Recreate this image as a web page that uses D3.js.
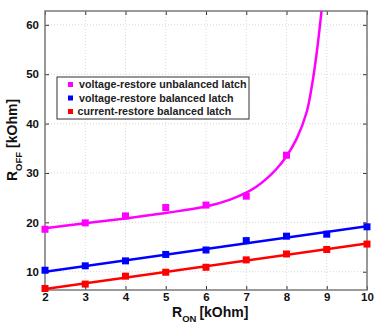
<!DOCTYPE html>
<head>
	<meta charset="utf-8">
	<style>
		body { margin: 0; background: #fff; }
		svg { font-family: "Liberation Sans", Arial, sans-serif; }
		.tick text { font-size: 11.5px; fill: #111; }
		.grid line { stroke: #d8d8d8; stroke-dasharray: 1,2; }
	</style>
</head>
<body>
	<svg width="374" height="327"></svg>
	<script src="https://d3js.org/d3.v7.min.js"></script>
	<script>
		// ---- data ----
		var ron = [2, 3, 4, 5, 6, 7, 8, 9, 10];
		var vrUnbalanced = [18.6, 19.9, 21.3, 23.0, 23.5, 25.3, 33.6];
		var vrBalanced = [10.3, 11.2, 12.2, 13.5, 14.4, 16.3, 17.2, 17.6, 19.1];
		var crBalanced = [6.6, 7.5, 9.1, 9.9, 10.9, 12.4, 13.6, 14.5, 15.6];

		// fitted curves
		var fitUnbalX = [2, 3, 4, 5, 6, 6.6, 7, 7.25, 7.5, 7.75, 8, 8.25, 8.5, 8.63, 8.75, 8.87, 8.95];
		var fitUnbalY = [18.8, 19.8, 20.8, 21.9, 23.2, 24.6, 26.0, 27.2, 28.8, 30.8, 33.4, 36.9, 42.3, 47.6, 54.3, 62.8, 69];
		var fitLineX = [2, 10];
		var fitBalY = [10.0, 19.2];
		var fitCurY = [6.5, 15.7];

		var xTicks = [2, 3, 4, 5, 6, 7, 8, 9, 10];
		var yTicks = [10, 20, 30, 40, 50, 60];
		var legendLabels = ["voltage-restore unbalanced latch", "voltage-restore balanced latch", "current-restore balanced latch"];
		var colors = ["#ff00ff", "#0000ff", "#ff0000"];

		var svg = d3.select("svg"),
			margin = { top: 11, right: 7, bottom: 37, left: 45 },
			width = 374 - margin.left - margin.right,
			height = 327 - margin.top - margin.bottom,
			g = svg.append("g").attr("transform", "translate(" + margin.left + "," + margin.top + ")");

		var x = d3.scaleLinear().domain([2, 10]).range([0, width]);
		var y = d3.scaleLinear().domain([6.3, 62.8]).range([height, 0]);

		svg.append("defs").append("clipPath").attr("id", "clip")
			.append("rect").attr("width", width).attr("height", height);

		// grid
		g.append("g").attr("class", "grid")
			.selectAll("line.gx").data(xTicks).enter().append("line")
			.attr("x1", x).attr("x2", x).attr("y1", 0).attr("y2", height);
		g.append("g").attr("class", "grid")
			.selectAll("line.gy").data(yTicks).enter().append("line")
			.attr("y1", y).attr("y2", y).attr("x1", 0).attr("x2", width);

		// axes (ticks pointing inward)
		var xAxis = g.append("g").attr("transform", "translate(0," + height + ")")
			.call(d3.axisBottom(x).tickValues(xTicks).tickSizeInner(-4).tickSizeOuter(0).tickPadding(3).tickFormat(d3.format("d")));
		var yAxis = g.append("g")
			.call(d3.axisLeft(y).tickValues(yTicks).tickSizeInner(-4).tickSizeOuter(0).tickPadding(6).tickFormat(d3.format("d")));
		g.append("g")
			.call(d3.axisTop(x).tickValues(xTicks).tickSizeInner(-4).tickSizeOuter(0).tickFormat(""));
		g.append("g").attr("transform", "translate(" + width + ",0)")
			.call(d3.axisRight(y).tickValues(yTicks).tickSizeInner(-4).tickSizeOuter(0).tickFormat(""));
		g.selectAll(".domain").remove();
		g.selectAll(".tick line").attr("stroke", "#333");
		xAxis.selectAll("text").attr("font-weight", "bold").attr("fill", "#222");
		yAxis.selectAll("text").attr("font-weight", "bold").attr("fill", "#222");

		g.append("rect").attr("width", width).attr("height", height)
			.attr("fill", "none").attr("stroke", "#7a7a7a").attr("stroke-width", 1.5);

		// fitted curves
		var line = d3.line().x(function (d) { return x(d[0]); }).y(function (d) { return y(d[1]); });
		var fits = [
			d3.zip(fitUnbalX, fitUnbalY),
			d3.zip(fitLineX, fitBalY),
			d3.zip(fitLineX, fitCurY)
		];
		g.selectAll("path.fit").data(fits).enter().append("path")
			.attr("class", "fit")
			.attr("clip-path", "url(#clip)")
			.attr("fill", "none")
			.attr("stroke", function (d, i) { return colors[i]; })
			.attr("stroke-width", 2.5)
			.attr("d", function (d, i) { return i === 0 ? line.curve(d3.curveCatmullRom)(d) : line.curve(d3.curveLinear)(d); });

		// measured points
		var series = [vrUnbalanced, vrBalanced, crBalanced];
		var ms = 7;
		series.forEach(function (s, i) {
			g.selectAll("rect.m" + i).data(s).enter().append("rect")
				.attr("class", "m" + i)
				.attr("x", function (d, j) { return x(ron[j]) - ms / 2; })
				.attr("y", function (d) { return y(d) - ms / 2; })
				.attr("width", ms).attr("height", ms)
				.attr("fill", colors[i]);
		});

		// legend
		var lg = svg.append("g").attr("transform", "translate(57,77)");
		lg.append("rect").attr("width", 192).attr("height", 42)
			.attr("fill", "#fff").attr("stroke", "#333").attr("stroke-width", 1);
		var rows = lg.selectAll("g.row").data(legendLabels).enter().append("g")
			.attr("transform", function (d, i) { return "translate(0," + (7.5 + i * 13.5) + ")"; });
		rows.append("rect").attr("x", 11).attr("y", -2.5).attr("width", 5).attr("height", 5)
			.attr("fill", function (d, i) { return colors[i]; });
		rows.append("text").attr("x", function (d, i) { return i === 2 ? 20.5 : 22; })
			.attr("dy", "0.36em")
			.attr("font-size", "10.7px").attr("font-weight", "bold").attr("fill", "#222")
			.text(function (d) { return d; });

		// axis titles
		var xt = svg.append("text").attr("x", 172).attr("y", 317)
			.attr("font-size", "14px").attr("font-weight", "bold").attr("fill", "#111");
		xt.append("tspan").text("R");
		xt.append("tspan").attr("font-size", "9.5px").attr("dy", 5).text("ON");
		xt.append("tspan").attr("dy", -5).attr("dx", 3).text("[kOhm]");

		var yt = svg.append("text").attr("transform", "translate(17,181) rotate(-90)")
			.attr("font-size", "14px").attr("font-weight", "bold").attr("fill", "#111");
		yt.append("tspan").text("R");
		yt.append("tspan").attr("font-size", "9.5px").attr("dy", 5).text("OFF");
		yt.append("tspan").attr("dy", -5).attr("dx", 4).text("[kOhm]");
	</script>
</body>
